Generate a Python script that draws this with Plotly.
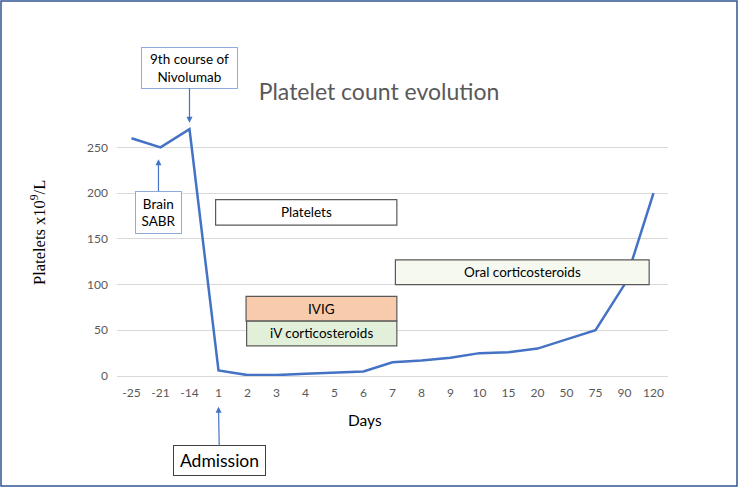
import plotly.graph_objects as go

days = ["-25", "-21", "-14", "1", "2", "3", "4", "5", "6", "7", "8", "9", "10",
        "15", "20", "50", "75", "90", "120"]
platelets = [260, 250, 270, 6, 1, 1, 2.5, 4, 5, 15, 17, 20, 25, 26, 30, 40, 50, 100, 200]
y_ticks = [0, 50, 100, 150, 200, 250]

W, H = 738, 487
L, R, T, B = 117, 70, 120, 111
PW, PH = W - L - R, H - T - B
FONT = "Lato, 'Open Sans', sans-serif"


def px_x(px):
    return (px - L) / PW


def px_y(py):
    return (H - B - py) / PH


fig = go.Figure()
fig.add_trace(go.Scatter(x=days, y=platelets, mode="lines",
                         line=dict(color="#4472C4", width=2.5),
                         hoverinfo="x+y", showlegend=False))

# treatment boxes (category index on x, platelet value on y)
boxes = [
    dict(label="Platelets", x0=2.9, x1=9.15, y0=165, y1=193, fill="#FFFFFF"),
    dict(label="IVIG", x0=3.95, x1=9.15, y0=60, y1=87, fill="#F8CBAD"),
    dict(label="iV corticosteroids", x0=3.97, x1=9.15, y0=33, y1=60, fill="#E2F0D9"),
    dict(label="Oral corticosteroids", x0=9.1, x1=17.85, y0=100, y1=127, fill="#F5F9F0"),
]
for b in boxes:
    fig.add_shape(type="rect", xref="x", yref="y", x0=b["x0"], x1=b["x1"],
                  y0=b["y0"], y1=b["y1"], fillcolor=b["fill"],
                  line=dict(color="#595959", width=1.2), layer="above")
    fig.add_annotation(xref="x", yref="y", x=(b["x0"] + b["x1"]) / 2,
                       y=(b["y0"] + b["y1"]) / 2, text=b["label"], showarrow=False,
                       xanchor="center", yanchor="middle",
                       font=dict(family=FONT, size=13.5, color="#000000"))

# event call-outs with arrows
callouts = [
    dict(text="9th course of<br>Nivolumab", x=2, yp=px_y(122.7), ax=0, ay=-55,
         w=95, h=40, size=13.5, border="#8FAADC"),
    dict(text="Brain<br>SABR", x=0.93, yp=px_y(159.3), ax=0, ay=53,
         w=45, h=41, size=13.5, border="#8FAADC"),
    dict(text="Admission", x=3, yp=px_y(406.7), ax=1, ay=54,
         w=91, h=29, size=17.5, border="#404040"),
]
for c in callouts:
    fig.add_annotation(xref="x", yref="paper", x=c["x"], y=c["yp"],
                       ax=c["ax"], ay=c["ay"], text=c["text"], showarrow=True,
                       arrowhead=2, arrowsize=1, arrowwidth=1.2,
                       arrowcolor="#4472C4", standoff=0,
                       bordercolor=c["border"], borderwidth=1, borderpad=0,
                       bgcolor="#FFFFFF", width=c["w"], height=c["h"],
                       font=dict(family=FONT, size=c["size"], color="#000000"))

# axis titles
fig.add_annotation(xref="paper", yref="paper", x=px_x(38), y=px_y(233),
                   xanchor="center", yanchor="middle",
                   text="Platelets x10<sup>9</sup>/L", textangle=-90, showarrow=False,
                   font=dict(family="'Liberation Serif', 'Times New Roman', serif",
                             size=16.5, color="#000000"))
fig.add_annotation(xref="paper", yref="paper", x=px_x(365), y=px_y(420),
                   xanchor="center", yanchor="middle",
                   text="Days", showarrow=False,
                   font=dict(family=FONT, size=15.5, color="#000000"))

# outer border
fig.add_shape(type="rect", xref="paper", yref="paper",
              x0=px_x(1), x1=px_x(737), y0=px_y(486), y1=px_y(1),
              line=dict(color="#2F5597", width=1.5), fillcolor="rgba(0,0,0,0)")

fig.update_layout(
    width=W, height=H,
    margin=dict(l=L, r=R, t=T, b=B),
    paper_bgcolor="#FFFFFF", plot_bgcolor="#FFFFFF",
    title=dict(text="Platelet count evolution", xref="paper", x=px_x(379),
               xanchor="center", yref="container", y=1 - 92 / H, yanchor="middle",
               font=dict(family=FONT, size=23, color="#595959")),
    font=dict(family=FONT),
    xaxis=dict(type="category", categoryorder="array", categoryarray=days,
               range=[-0.5, len(days) - 0.5], showgrid=False, ticks="",
               showline=True, linecolor="#D9D9D9", linewidth=1,
               tickfont=dict(family=FONT, size=12, color="#595959"),
               ticklabelstandoff=6),
    yaxis=dict(range=[0, 280], tickvals=y_ticks, showgrid=True,
               gridcolor="#D9D9D9", gridwidth=1, zeroline=False, showline=False,
               ticks="", tickfont=dict(family=FONT, size=12, color="#595959"),
               ticklabelstandoff=8),
)

fig.write_html("out.html", config={"displayModeBar": False},
               post_script="document.body.style.margin='0';"
                           "document.body.style.padding='0';")
